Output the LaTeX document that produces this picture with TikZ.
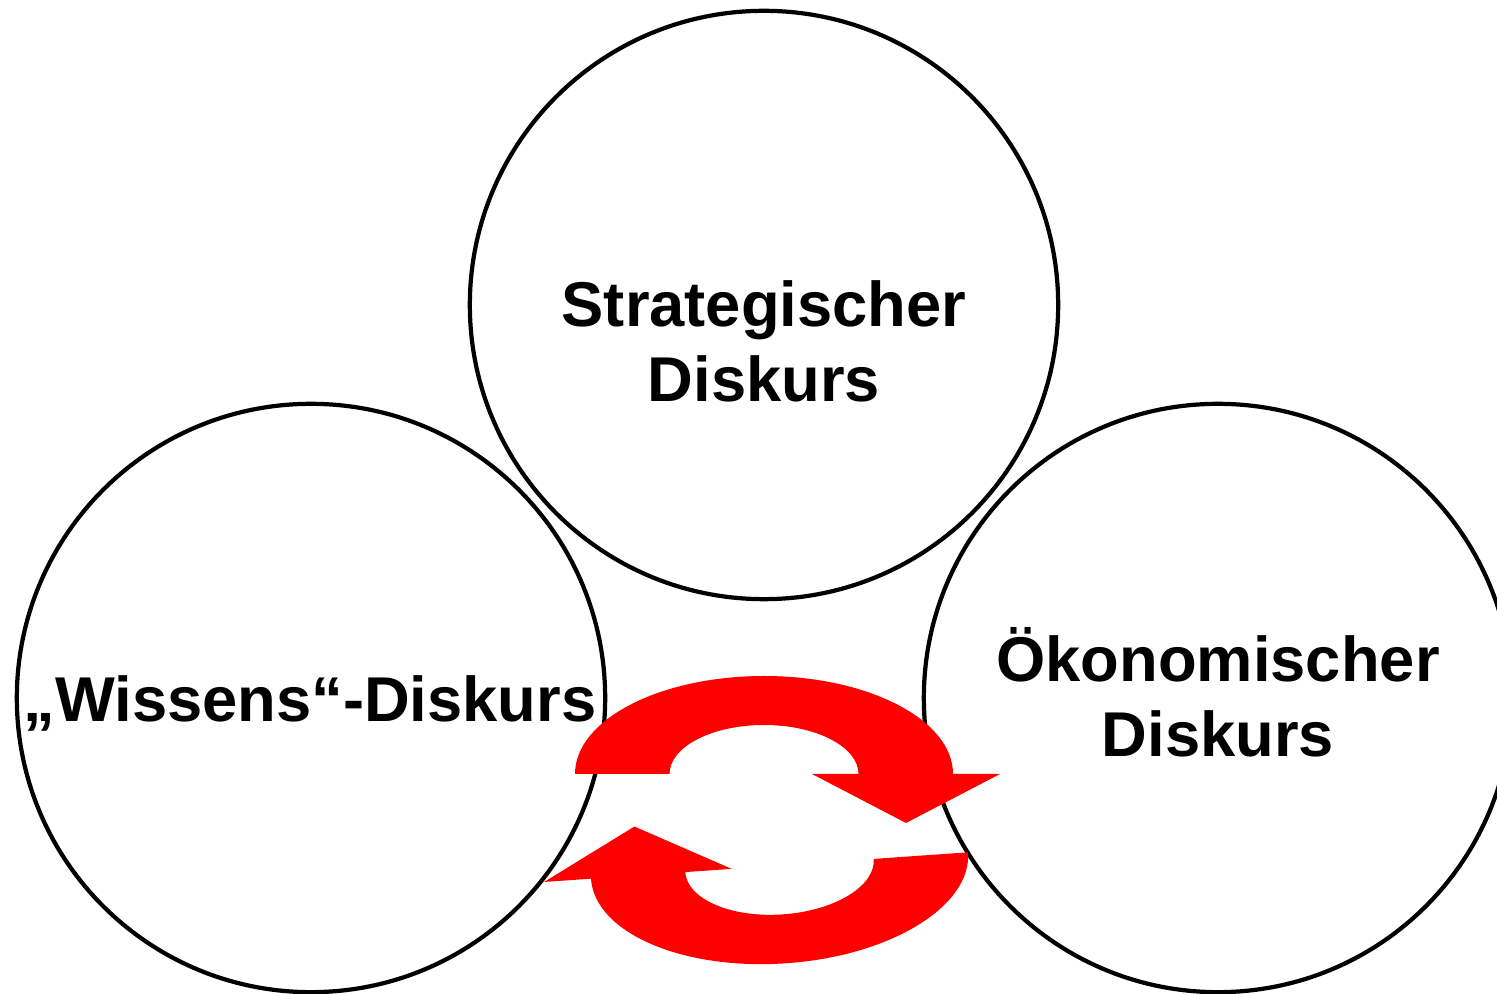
\documentclass[tikz,border=0pt]{standalone}
\usepackage{fontspec}
\setmainfont{Liberation Sans}
\usepackage{tikz}
\usepackage{xcolor}
\usetikzlibrary{positioning}

\begin{document}
\begin{tikzpicture}[x=0.01cm, y=0.01cm,
    disk/.style={circle, draw, line width=1.2pt, minimum size=5.88cm, inner sep=0pt},
    lbl/.style={align=center, font=\fontsize{18}{21.3}\selectfont\bfseries},
    swirl/.style={fill=red, draw=none}]
                \useasboundingbox (0, 0) rectangle (1497, 994);

                \node[disk] (strat) at (764, 689) {};
                \node[disk] (wissen) at (311, 296) {};
                \node[disk] (oeko) at (1218, 296) {};

                % the two turning arrows
                \begin{scope}[shift={(764, 220)}]
                    \fill[swirl] (-189, 0) arc[start angle=180, end angle=0, x radius=189, y radius=98]
                        -- (236, 0) -- (142, -49) -- (48, 0) -- (94.5, 0)
                        arc[start angle=0, end angle=180, x radius=94.5, y radius=49] -- cycle;
                \end{scope}
                \begin{scope}[shift={(779.5, 128.5)}, rotate=184]
                    \fill[swirl] (-189, 0) arc[start angle=180, end angle=0, x radius=189, y radius=98]
                        -- (236, 0) -- (142, -49) -- (48, 0) -- (94.5, 0)
                        arc[start angle=0, end angle=180, x radius=94.5, y radius=49] -- cycle;
                \end{scope}

                \node[lbl] (stratText) at (764, 653) {Strategischer\\Diskurs};
                \node[lbl] (wissenText) at (310, 291) {„Wissens“-Diskurs};
                \node[lbl] (oekoText) at (1218, 302) {Ökonomischer\\Diskurs};
            \end{tikzpicture}
\end{document}
